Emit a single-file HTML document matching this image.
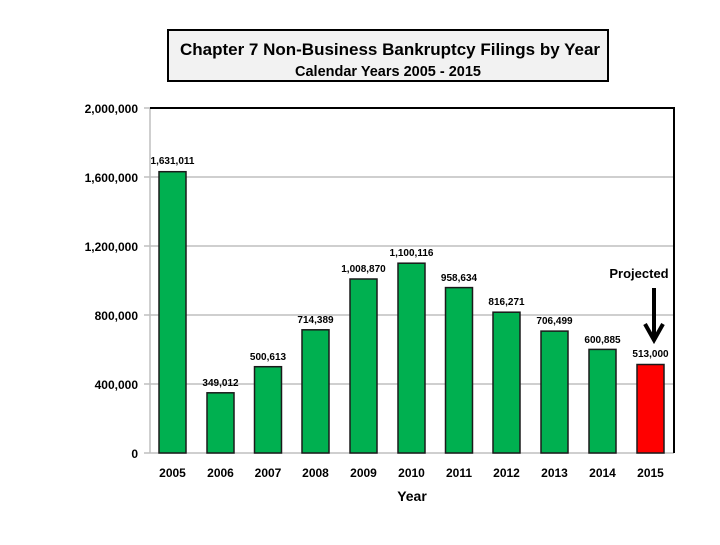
<!DOCTYPE html>
<html><head><style>
body{margin:0;background:#fff;}
svg text{font-family:"Liberation Sans",Arial,sans-serif;font-weight:bold;}
</style></head><body>
<svg width="720" height="540" xmlns="http://www.w3.org/2000/svg">
<rect x="168" y="30" width="440" height="51" fill="#f2f2f2" stroke="#000" stroke-width="2"/>
<text x="390" y="55" font-size="17" text-anchor="middle">Chapter 7  Non-Business Bankruptcy Filings by Year</text>
<text x="388" y="76" font-size="14.5" text-anchor="middle">Calendar Years 2005 - 2015</text>
<g stroke="#bfbfbf" stroke-width="1.5">
<line x1="150" y1="177" x2="674" y2="177"/>
<line x1="150" y1="246" x2="674" y2="246"/>
<line x1="150" y1="315" x2="674" y2="315"/>
<line x1="150" y1="384" x2="674" y2="384"/>
<line x1="150" y1="108" x2="150" y2="453"/>
<line x1="150" y1="453" x2="674" y2="453"/>
<line x1="144" y1="108" x2="150" y2="108"/><line x1="144" y1="177" x2="150" y2="177"/><line x1="144" y1="246" x2="150" y2="246"/><line x1="144" y1="315" x2="150" y2="315"/><line x1="144" y1="384" x2="150" y2="384"/><line x1="144" y1="453" x2="150" y2="453"/>
</g>
<polyline points="150,108 674,108 674,453" fill="none" stroke="#000" stroke-width="2"/>
<g font-size="12" text-anchor="end">
<text x="138" y="113">2,000,000</text><text x="138" y="182">1,600,000</text><text x="138" y="251">1,200,000</text><text x="138" y="320">800,000</text><text x="138" y="389">400,000</text><text x="138" y="458">0</text>
</g>
<g stroke="#1a1a1a" stroke-width="1.5" fill="#00b050">
<rect x="159" y="171.7" width="27" height="281.3"/>
<rect x="207" y="392.8" width="27" height="60.2"/>
<rect x="254.5" y="366.7" width="27" height="86.3"/>
<rect x="302" y="329.8" width="27" height="123.2"/>
<rect x="350" y="279" width="27" height="174"/>
<rect x="398" y="263.2" width="27" height="189.8"/>
<rect x="445.5" y="287.6" width="27" height="165.4"/>
<rect x="493" y="312.2" width="27" height="140.8"/>
<rect x="541" y="331.1" width="27" height="121.9"/>
<rect x="589" y="349.4" width="27" height="103.6"/>
<rect x="637" y="364.5" width="27" height="88.5" fill="#ff0000"/>
</g>
<g font-size="10" text-anchor="middle">
<text x="172.5" y="164">1,631,011</text><text x="220.5" y="386">349,012</text><text x="268" y="360">500,613</text><text x="315.5" y="323">714,389</text><text x="363.5" y="272">1,008,870</text><text x="411.5" y="256">1,100,116</text><text x="459" y="281">958,634</text><text x="506.5" y="305">816,271</text><text x="554.5" y="324">706,499</text><text x="602.5" y="343">600,885</text><text x="650.5" y="357" font-weight="normal">513,000</text>
</g>
<g font-size="12" text-anchor="middle">
<text x="172.5" y="477">2005</text><text x="220.5" y="477">2006</text><text x="268" y="477">2007</text><text x="315.5" y="477">2008</text><text x="363.5" y="477">2009</text><text x="411.5" y="477">2010</text><text x="459" y="477">2011</text><text x="506.5" y="477">2012</text><text x="554.5" y="477">2013</text><text x="602.5" y="477">2014</text><text x="650.5" y="477">2015</text>
</g>
<text x="412" y="501" font-size="14" text-anchor="middle">Year</text>
<text x="639" y="278" font-size="13" text-anchor="middle">Projected</text>
<line x1="654" y1="288" x2="654" y2="336" stroke="#000" stroke-width="4"/>
<polyline points="645,324 654,340 663,324" fill="none" stroke="#000" stroke-width="4"/>
</svg>
</body></html>
